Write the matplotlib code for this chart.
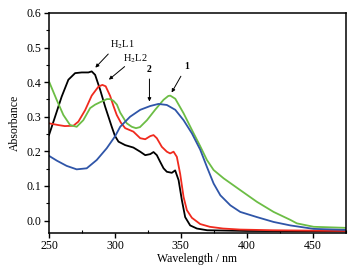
import matplotlib
matplotlib.use("Agg")
import matplotlib.pyplot as plt
from matplotlib.ticker import MultipleLocator

plt.rcParams["font.family"] = ["Liberation Serif", "DejaVu Serif"]
plt.rcParams["mathtext.fontset"] = "stix"

# H2L1 (preto)
wl_h2l1 = [250, 254.6, 259.6, 264.7, 269.8, 274.8, 279.9, 282.4, 285, 288.8, 292.6, 295.1,
           297.6, 300, 302.7, 307.8, 314, 319.2, 323, 326.8, 329.3, 331.8, 334.3, 336.9,
           339.4, 343.2, 345.7, 348.3, 350.8, 353.3, 357.1, 362.2, 370, 400, 475]
abs_h2l1 = [0.247, 0.300, 0.358, 0.407, 0.426, 0.428, 0.428, 0.431, 0.421, 0.378, 0.329, 0.300,
            0.271, 0.245, 0.228, 0.218, 0.211, 0.199, 0.189, 0.192, 0.198, 0.189, 0.170, 0.151,
            0.141, 0.138, 0.145, 0.117, 0.059, 0.010, -0.014, -0.023, -0.028, -0.030, -0.031]

# H2L2 (vermelho)
wl_h2l2 = [250, 257, 262, 268.5, 272.3, 277.4, 282.4, 287.5, 290.5, 293, 296.4, 299, 301.4,
           304.5, 307.8, 314, 319.2, 323, 326.8, 329.3, 331.8, 335.6, 339.4, 341.9, 344.5,
           347, 349.5, 352.1, 354.6, 358.4, 364.7, 372, 382, 395, 420, 475]
abs_h2l2 = [0.281, 0.276, 0.273, 0.274, 0.286, 0.319, 0.361, 0.387, 0.392, 0.388, 0.360, 0.330,
            0.305, 0.283, 0.267, 0.257, 0.238, 0.235, 0.244, 0.247, 0.238, 0.213, 0.199, 0.194,
            0.199, 0.184, 0.135, 0.068, 0.030, 0.008, -0.010, -0.018, -0.023, -0.026, -0.028,
            -0.030]

# complexo 1 (verde)
wl_c1 = [250, 255.8, 260.9, 266, 271, 276, 281.2, 285, 288.8, 293.9, 296.4, 298.9, 301.5,
         304, 309, 312.8, 316, 319, 324.3, 330.5, 336.9, 340.5, 342, 345.8, 352.1, 358.4,
         364.7, 369.8, 374.9, 382.5, 395.1, 407.8, 420.4, 433.1, 438, 450.8, 475]
abs_c1 = [0.402, 0.349, 0.305, 0.276, 0.271, 0.290, 0.325, 0.335, 0.342, 0.351, 0.351, 0.346,
          0.335, 0.312, 0.281, 0.271, 0.267, 0.270, 0.290, 0.320, 0.349, 0.360, 0.361, 0.352,
          0.310, 0.262, 0.215, 0.175, 0.146, 0.122, 0.088, 0.054, 0.025, 0.002, -0.008,
          -0.018, -0.021]

# complexo 2 (azul)
wl_c2 = [250, 256, 263.4, 271, 278.6, 286.2, 293.8, 300.2, 304, 311.5, 319.2, 326.8, 333,
         339.4, 345.8, 352.1, 358.4, 364.7, 369.8, 374.9, 380, 387.6, 395.1, 407.8, 420.4,
         433.1, 450.8, 475]
abs_c2 = [0.187, 0.173, 0.158, 0.148, 0.151, 0.175, 0.209, 0.244, 0.271, 0.300, 0.320, 0.331,
          0.337, 0.334, 0.320, 0.290, 0.252, 0.205, 0.155, 0.107, 0.073, 0.044, 0.025, 0.010,
          -0.004, -0.014, -0.024, -0.027]

fig = plt.figure(figsize=(3.63, 2.69), dpi=100)
ax = fig.add_axes([0.135, 0.135, 0.817, 0.817])

lw = 1.3
ax.plot(wl_h2l1, abs_h2l1, color="#000000", lw=lw)
ax.plot(wl_h2l2, abs_h2l2, color="#f02a1e", lw=lw)
ax.plot(wl_c1, abs_c1, color="#6cbd45", lw=lw)
ax.plot(wl_c2, abs_c2, color="#2f55a8", lw=lw)

ax.set_xlim(250, 475)
ax.set_ylim(-0.035, 0.6)
ax.xaxis.set_major_locator(MultipleLocator(50))
ax.xaxis.set_minor_locator(MultipleLocator(25))
ax.yaxis.set_major_locator(MultipleLocator(0.1))
ax.yaxis.set_minor_locator(MultipleLocator(0.05))
ax.yaxis.set_major_formatter(plt.FuncFormatter(lambda v, p: f"{v:.1f}"))

ax.tick_params(axis="both", which="major", direction="out", length=3.5, width=1,
               labelsize=8.5, pad=2, top=False, right=False)
ax.tick_params(axis="y", which="minor", direction="out", length=2, width=0.8)
ax.tick_params(axis="x", which="minor", direction="in", length=2, width=0.8)
for s in ax.spines.values():
    s.set_linewidth(1.1)

ax.set_xlabel("Wavelength / nm", fontsize=8.5, labelpad=0.5)
ax.set_ylabel("Absorbance", fontsize=8.5, labelpad=4)

# setas e rotulos
arr = dict(arrowstyle="-|>", color="black", lw=0.7, mutation_scale=5)
ax.annotate("", xy=(283.7, 0.436), xytext=(296.4, 0.487), arrowprops=arr)
ax.text(305.5, 0.508, r"H$_2$L1", fontsize=7.5, ha="center", va="center")
ax.annotate("", xy=(293.8, 0.402), xytext=(309.0, 0.450), arrowprops=arr)
ax.text(315.4, 0.469, r"H$_2$L2", fontsize=7.5, ha="center", va="center")
ax.annotate("", xy=(326.2, 0.336), xytext=(326.2, 0.417), arrowprops=arr)
ax.text(326.2, 0.437, "2", fontsize=7, fontweight="bold", ha="center", va="center")
ax.annotate("", xy=(342.0, 0.363), xytext=(351.1, 0.424), arrowprops=arr)
ax.text(354.1, 0.445, "1", fontsize=7, fontweight="bold", ha="center", va="center")

fig.savefig("out.png", dpi=100)
